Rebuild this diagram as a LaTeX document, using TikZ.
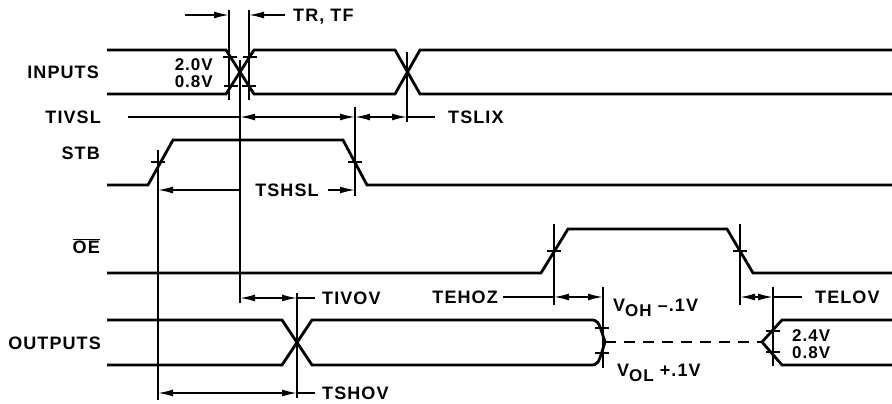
\documentclass[tikz,border=0pt]{standalone}
\usepackage{fontspec}
\setmainfont{Liberation Sans}
\newfontfamily\lblfont{Liberation Sans}[LetterSpace=6]
\usetikzlibrary{arrows.meta}
\begin{document}
\begin{tikzpicture}[x=1pt,y=-1pt,
  sig/.style={line width=2.8pt, line join=miter},
  ref/.style={line width=1.5pt},
  dim/.style={line width=1.6pt},
  tipr/.style={-{Latex[length=15pt,width=7pt]}},
  tipb/.style={{Latex[length=15pt,width=7pt]}-{Latex[length=15pt,width=7pt]}},
  lbl/.style={font=\lblfont\fontsize{18}{18}\selectfont\bfseries, inner sep=0pt, text height=12.9pt, text depth=0pt},
  sml/.style={font=\lblfont\fontsize{17}{17}\selectfont\bfseries, inner sep=0pt, text height=12.2pt, text depth=0pt},
]
\useasboundingbox (0,0) rectangle (892,404);

% ---------- signals ----------
\draw[sig] (107,50) -- (226,50) -- (254,94) -- (395,94) -- (420,50) -- (892,50);
\draw[sig] (107,94) -- (226,94) -- (254,50) -- (395,50) -- (420,94) -- (892,94);
\draw[sig] (107,185) -- (148,185) -- (173,140) -- (343,140) -- (367,185) -- (892,185);
\draw[sig] (107,273) -- (541,273) -- (568,229) -- (727,229) -- (753,273) -- (892,273);
\draw[sig] (107,320) -- (282,320) -- (312,365) -- (590,365) .. controls (598,365) .. (605,342);
\draw[sig] (107,365) -- (282,365) -- (312,320) -- (590,320) .. controls (598,320) .. (605,342);
\draw[sig, dash pattern=on 11pt off 8pt] (605,342) -- (762,342);
\draw[sig] (892,320) -- (782,320) -- (762,342) -- (782,365) -- (892,365);

% ---------- threshold ticks ----------
\foreach \x/\y in {230/57,250/57,231/86,249/86,158/162,355/162,554/251,740/251,602/328,602/353,773/331,773/352}
  \draw[ref] (\x-7,\y) -- (\x+7,\y);

% ---------- reference verticals ----------
\draw[ref] (229,10) -- (229,100);
\draw[ref] (249,10) -- (249,100);
\draw[ref] (240,60) -- (240,303);
\draw[ref] (407,52) -- (407,122);
\draw[ref] (355,107) -- (355,196);
\draw[ref] (158,150) -- (158,400);
\draw[ref] (554,224) -- (554,305);
\draw[ref] (740,224) -- (740,305);
\draw[ref] (603,287) -- (603,368);
\draw[ref] (773,287) -- (773,366);
\draw[ref] (297,293) -- (297,398);

% ---------- dimension arrows ----------
\draw[dim,tipr] (185,15) -- (229,15);
\draw[dim,tipr] (285,15) -- (249,15);
\draw[dim] (128,117) -- (240,117);
\draw[dim,tipb] (240,117) -- (355,117);
\draw[dim,tipb] (355,117) -- (407,117);
\draw[dim] (407,117) -- (435,117);
\draw[dim,tipr] (240,190) -- (158,190);
\draw[dim,tipr] (328,190) -- (355,190);
\draw[dim,tipb] (240,298) -- (297,298);
\draw[dim] (297,298) -- (315,298);
\draw[dim,tipb] (158,393) -- (297,393);
\draw[dim] (297,393) -- (315,393);
\draw[dim] (503,297) -- (554,297);
\draw[dim,tipb] (554,297) -- (603,297);
\draw[dim,tipb] (740,297) -- (773,297);
\draw[dim] (773,297) -- (802,297);

% ---------- labels ----------
\node[lbl, anchor=east] (inputs) at (99,72) {INPUTS};
\node[lbl, anchor=east] (tivsl) at (101,117) {TIVSL};
\node[lbl, anchor=east] (stb) at (100,153) {STB};
\node[lbl, anchor=east] (oe) at (100,247) {$\overline{\mbox{OE}}$};
\node[lbl, anchor=east] (outputs) at (101,343) {OUTPUTS};
\node[lbl, anchor=west] (trtf) at (293,15) {TR, TF};
\node[lbl, anchor=west] (tslix) at (448,117) {TSLIX};
\node[lbl] (tshsl) at (287,190) {TSHSL};
\node[lbl, anchor=west] (tivov) at (322,298) {TIVOV};
\node[lbl, anchor=west] (tshov) at (322,393) {TSHOV};
\node[lbl, anchor=east] (tehoz) at (498,297) {TEHOZ};
\node[lbl, anchor=west] (telov) at (815,297) {TELOV};
\node[sml, anchor=east] (v20) at (213,64) {2.0V};
\node[sml, anchor=east] (v08a) at (213,81) {0.8V};
\node[sml, anchor=west] (v24) at (792,335) {2.4V};
\node[sml, anchor=west] (v08b) at (792,352) {0.8V};
\node[lbl, anchor=west] (voh) at (613,305) {V\raisebox{-5pt}{\fontsize{17}{17}\selectfont OH} \textendash.1V};
\node[lbl, anchor=west] (vol) at (617,370) {V\raisebox{-5pt}{\fontsize{17}{17}\selectfont OL} +.1V};
\end{tikzpicture}
\end{document}
